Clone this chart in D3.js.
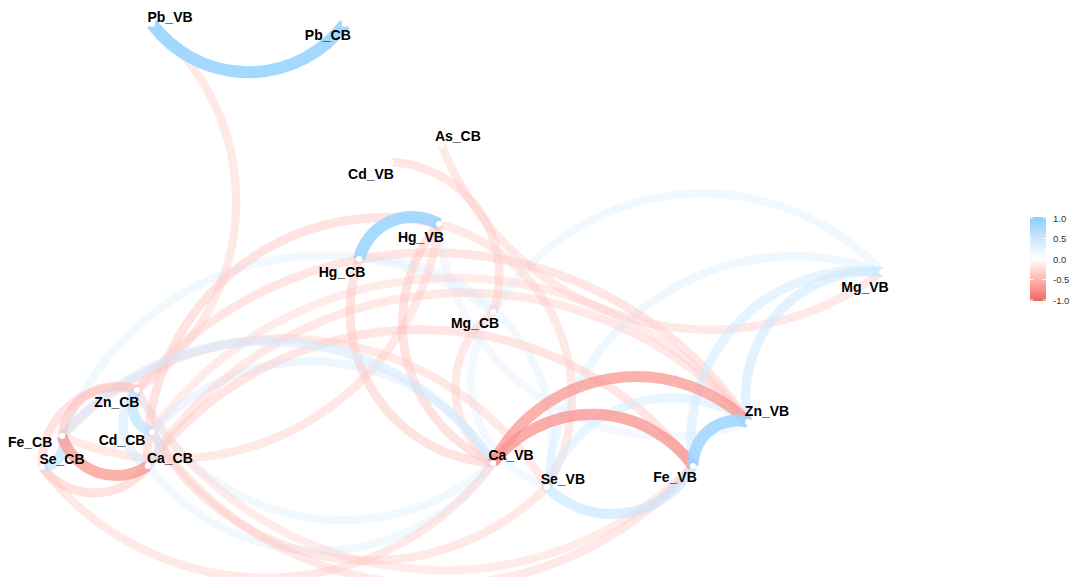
<!DOCTYPE html>
<html>
<head>
<meta charset="utf-8">
<script src="https://cdn.jsdelivr.net/npm/d3@7"></script>
<style>
  html, body { margin: 0; padding: 0; background: #ffffff; }
  svg { display: block; }
</style>
</head>
<body>
<svg id="chart" width="1071" height="577"></svg>
<script>
// Variables and their positions from multidimensional scaling of the correlations
const nodeIds = ["Pb_VB", "Pb_CB", "As_CB", "Cd_VB", "Hg_VB", "Hg_CB", "Mg_CB", "Mg_VB", "Zn_VB",
                 "Fe_VB", "Se_VB", "Ca_VB", "Zn_CB", "Cd_CB", "Ca_CB", "Fe_CB", "Se_CB"];
const nodeX = [-0.738, -0.279, -0.048, -0.169, -0.055, -0.245, 0.074, 1.000, 0.681,
               0.550, 0.202, 0.074, -0.774, -0.738, -0.748, -0.952, -1.000];
const nodeY = [1.000, 1.000, 0.477, 0.404, 0.136, -0.015, -0.244, -0.071, -0.719,
               -0.909, -1.000, -0.896, -0.581, -0.762, -0.909, -0.780, -0.914];

// Pairwise correlations with |r| >= 0.3
const edgeFrom = ["Pb_VB", "Hg_VB", "Zn_VB", "Fe_VB", "Zn_VB", "Fe_CB", "Zn_CB", "Se_CB", "Se_VB",
                  "Mg_VB", "Mg_VB", "Zn_CB", "Ca_CB", "Ca_VB", "Zn_VB", "Ca_VB", "Mg_VB", "Mg_VB",
                  "Mg_CB", "Hg_VB", "Se_VB", "Mg_CB", "Ca_CB", "Zn_CB", "Zn_CB", "Zn_CB", "Se_CB",
                  "Zn_CB", "Mg_CB", "As_CB", "Hg_VB", "Hg_VB", "Hg_CB", "Fe_CB", "Se_VB", "Zn_VB",
                  "Zn_VB", "Zn_VB", "Cd_CB", "Se_CB", "Zn_CB", "Fe_VB", "Se_VB", "Mg_CB", "Cd_CB"];
const edgeTo   = ["Pb_CB", "Hg_CB", "Fe_VB", "Ca_VB", "Ca_VB", "Ca_CB", "Cd_CB", "Fe_CB", "Fe_VB",
                  "Zn_VB", "Fe_VB", "Ca_CB", "Cd_CB", "Fe_CB", "Se_VB", "Cd_CB", "Se_VB", "Mg_CB",
                  "Fe_CB", "Zn_VB", "Hg_CB", "Se_VB", "Ca_VB", "Ca_VB", "Fe_CB", "Se_CB", "Ca_CB",
                  "Pb_VB", "Cd_VB", "Mg_VB", "Ca_CB", "Ca_VB", "Ca_VB", "Hg_VB", "Hg_VB", "Zn_CB",
                  "Ca_CB", "Cd_CB", "Fe_VB", "Ca_VB", "Fe_VB", "Ca_CB", "Fe_CB", "Ca_VB", "Se_VB"];
const edgeR    = [0.88, 0.86, 0.84, -0.72, -0.70, -0.70, 0.62, 0.60, 0.55,
                  0.48, 0.45, 0.45, 0.42, 0.45, 0.42, 0.36, 0.35, 0.32,
                  0.32, 0.30, 0.32, 0.30, 0.32, 0.32, -0.45, -0.40, -0.42,
                  -0.35, -0.38, -0.35, -0.40, -0.40, -0.40, -0.36, -0.35, -0.38,
                  -0.36, -0.33, -0.36, -0.35, -0.33, -0.38, -0.36, -0.35, -0.36];

// Legend breaks
const legendBreaks = [1.0, 0.5, 0.0, -0.5, -1.0];
const legendLabels = ["1.0", "0.5", "0.0", "-0.5", "-1.0"];

// ---- layout ----
const svg = d3.select("#chart");

const x = d3.scaleLinear().domain([-1, 1]).range([42, 882]);
const y = d3.scaleLinear().domain([-1, 1]).range([487, 24]);

const colour = d3.scaleLinear()
  .domain([-1, 0, 1])
  .range(["#EE6363", "#FFFFFF", "#87CEFF"])
  .interpolate(d3.interpolateLab);
const strokeSize = d3.scaleSqrt().domain([0, 1]).range([1, 6]);   // area-style size scale
const PX_PER_SIZE = 2.13;
const alpha = d3.scaleLinear().domain([0, 1]).range([0.1, 1]);

const BEND = 0.5;   // sagitta relative to half the chord

// label placement relative to each point (pixels)
const labelDx = [18, -17, 16, -20, -18, -17, -18, -17, 19, -18, 16, 18, -20, -30, 22, -32, 20];
const labelDy = [-7, 11, -9, 12, 13, 13, 11, 15, -11, 11, -8, -8, 12, 8, -8, 6, -8];

const pos = {};
nodeIds.forEach((id, i) => { pos[id] = [x(nodeX[i]), y(nodeY[i])]; });

function curvePath(a, b) {
  const dx = b[0] - a[0], dy = b[1] - a[1];
  const h = Math.hypot(dx, dy) / 2;
  const s = BEND * h;
  const R = (h * h + s * s) / (2 * s);
  // sweep 0: the curve bows to the right of the travel direction
  return `M${a[0]},${a[1]}A${R},${R} 0 0 0 ${b[0]},${b[1]}`;
}

const edges = edgeFrom.map((f, i) => ({ from: f, to: edgeTo[i], r: edgeR[i] }))
  .sort((p, q) => Math.abs(p.r) - Math.abs(q.r));

svg.append("g").attr("class", "edges")
  .selectAll("path")
  .data(edges)
  .join("path")
  .attr("d", d => curvePath(pos[d.from], pos[d.to]))
  .attr("fill", "none")
  .attr("stroke", d => colour(d.r))
  .attr("stroke-opacity", d => alpha(Math.abs(d.r)))
  .attr("stroke-width", d => strokeSize(Math.abs(d.r)) * PX_PER_SIZE)
  .attr("stroke-linecap", "butt");

// points
svg.append("g").selectAll("circle")
  .data(nodeIds)
  .join("circle")
  .attr("cx", d => pos[d][0])
  .attr("cy", d => pos[d][1])
  .attr("r", 3)
  .attr("fill", "#ffffff");

// labels
svg.append("g").selectAll("text")
  .data(nodeIds)
  .join("text")
  .attr("x", (d, i) => pos[d][0] + labelDx[i])
  .attr("y", (d, i) => pos[d][1] + labelDy[i])
  .attr("text-anchor", "middle")
  .attr("dominant-baseline", "central")
  .attr("font-family", "'Liberation Sans', Arial, sans-serif")
  .attr("font-weight", "bold")
  .attr("font-size", 14)
  .attr("fill", "#000000")
  .text(d => d);

// ---- colour bar legend ----
const barX = 1030, barW = 16;
const ly = d3.scaleLinear().domain([1, -1]).range([218, 300]);

const grad = svg.append("defs").append("linearGradient")
  .attr("id", "barGrad")
  .attr("x1", 0).attr("y1", 0).attr("x2", 0).attr("y2", 1);
d3.range(0, 1.0001, 0.05).forEach(t => {
  grad.append("stop")
    .attr("offset", t)
    .attr("stop-color", colour(1 - 2 * t));
});

const gLeg = svg.append("g").attr("class", "legend");
gLeg.append("rect")
  .attr("x", barX).attr("y", ly(1) - 1)
  .attr("width", barW).attr("height", ly(-1) - ly(1) + 2)
  .attr("fill", "url(#barGrad)");

legendBreaks.forEach((v, i) => {
  const yy = ly(v);
  gLeg.append("line")
    .attr("x1", barX).attr("x2", barX + 3.2)
    .attr("y1", yy).attr("y2", yy)
    .attr("stroke", "#ffffff").attr("stroke-width", 1);
  gLeg.append("line")
    .attr("x1", barX + barW - 3.2).attr("x2", barX + barW)
    .attr("y1", yy).attr("y2", yy)
    .attr("stroke", "#ffffff").attr("stroke-width", 1);
  gLeg.append("text")
    .attr("x", barX + barW + 7)
    .attr("y", yy)
    .attr("dominant-baseline", "central")
    .attr("font-family", "'Liberation Sans', Arial, sans-serif")
    .attr("font-size", 9.5)
    .attr("fill", "#333333")
    .text(legendLabels[i]);
});
</script>
</body>
</html>
